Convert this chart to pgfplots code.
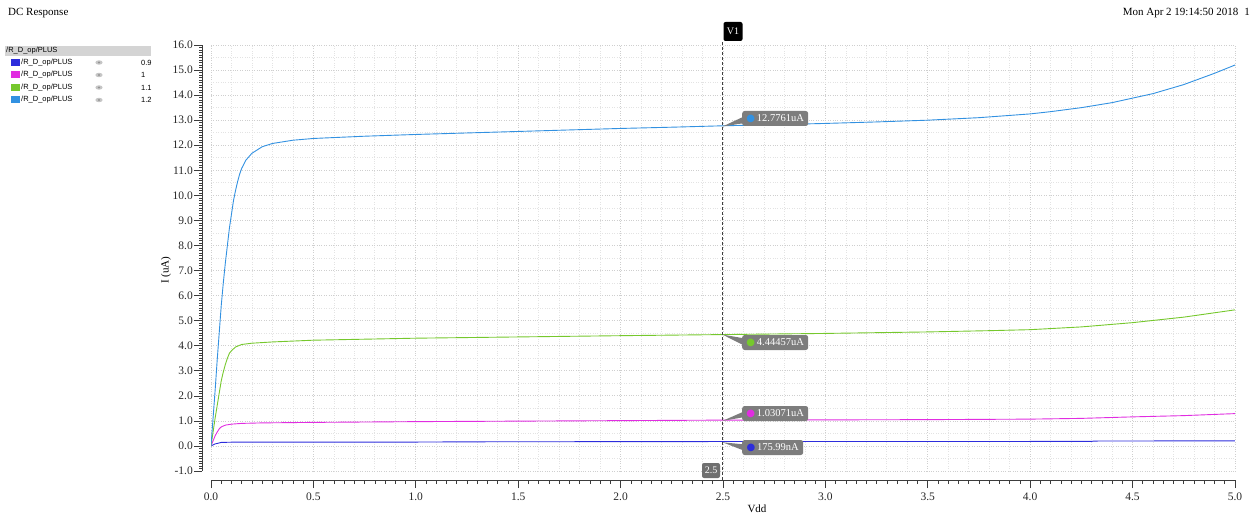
\documentclass[border=0pt]{standalone}
\usepackage{fontspec}
\setmainfont{Liberation Serif}
\newfontfamily\legfont{Liberation Sans}
\newfontfamily\djv{DejaVu Sans}
\usepackage{pgfplots}
\pgfplotsset{compat=1.18}
\definecolor{cA}{RGB}{45,45,220}
\definecolor{cB}{RGB}{225,45,225}
\definecolor{cC}{RGB}{118,200,45}
\definecolor{cD}{RGB}{50,145,225}
\definecolor{labgray}{RGB}{125,125,125}
\definecolor{curgray}{RGB}{112,112,112}
\definecolor{hdrgray}{RGB}{212,212,212}
\definecolor{axgray}{RGB}{60,60,60}

\pgfplotstableread{
x y
0 0
0.01 1.1
0.02 2.2
0.03 3.4
0.04 4.5
0.05 5.6
0.06 6.5
0.07 7.3
0.08 8.0
0.09 8.7
0.10 9.25
0.11 9.8
0.12 10.2
0.13 10.55
0.14 10.85
0.15 11.08
0.17 11.4
0.20 11.68
0.25 11.94
0.30 12.07
0.40 12.2
0.50 12.27
0.75 12.36
1.00 12.43
1.25 12.49
1.50 12.55
1.75 12.61
2.00 12.67
2.25 12.72
2.50 12.776
2.75 12.82
3.00 12.87
3.25 12.93
3.50 13.0
3.75 13.1
4.00 13.25
4.10 13.34
4.25 13.5
4.40 13.7
4.50 13.88
4.60 14.06
4.75 14.42
4.90 14.87
5.00 15.2
}\tblD

\pgfplotstableread{
x y
0 0
0.01 0.55
0.02 1.1
0.03 1.6
0.04 2.1
0.05 2.6
0.06 2.95
0.07 3.25
0.08 3.5
0.09 3.7
0.10 3.8
0.12 3.95
0.15 4.05
0.20 4.1
0.30 4.15
0.50 4.22
0.75 4.26
1.00 4.3
1.50 4.35
2.00 4.4
2.50 4.44457
3.00 4.49
3.50 4.55
3.80 4.6
4.00 4.64
4.25 4.75
4.50 4.92
4.75 5.14
5.00 5.43
}\tblC

\pgfplotstableread{
x y
0 0
0.01 0.2
0.02 0.4
0.03 0.55
0.04 0.68
0.05 0.76
0.07 0.83
0.10 0.87
0.15 0.9
0.25 0.92
0.50 0.94
1.00 0.97
1.50 0.99
2.00 1.01
2.50 1.03071
3.00 1.04
3.50 1.05
4.00 1.07
4.25 1.1
4.50 1.16
4.75 1.21
5.00 1.29
}\tblB

\pgfplotstableread{
x y
0 0
0.02 0.08
0.05 0.14
0.10 0.15
1.00 0.155
1.30 0.165
2.50 0.17599
4.30 0.18
4.31 0.195
5.00 0.205
}\tblA

\newcommand{\ldot}[1]{{\djv\fontsize{10}{10}\selectfont\textcolor{#1}{●}}}

\begin{document}
\begin{tikzpicture}
\path[use as bounding box] (0,0) rectangle (1256pt,515pt);

% title texts
\node[anchor=base west, inner sep=0, font=\fontsize{11}{13}\selectfont] at (8pt,499pt) {DC Response};
\node[anchor=base east, inner sep=0, font=\fontsize{11}{13}\selectfont] at (1250pt,499pt) {Mon Apr 2 19:14:50 2018\hspace{6pt}1};

% legend
\fill[hdrgray] (5pt,459pt) rectangle (151pt,469pt);
\node[anchor=west, inner sep=0, font=\legfont\fontsize{7.5}{8}\selectfont] at (6pt,464pt) {/R\_D\_op/PLUS};
\foreach \c/\v/\yy in {cA/0.9/452.5, cB/1/440, cC/1.1/427.5, cD/1.2/415}{
  \fill[\c] (11pt,\yy pt-3.5pt) rectangle (20pt,\yy pt+3.5pt);
  \node[anchor=west, inner sep=0, font=\legfont\fontsize{7.5}{8}\selectfont] at (21pt,\yy pt) {/R\_D\_op/PLUS};
  \fill[gray!45] (99pt,\yy pt) ellipse (3.6pt and 2.2pt);
  \fill[gray!85] (99pt,\yy pt) circle (1.2pt);
  \node[anchor=west, inner sep=0, font=\legfont\fontsize{7.5}{8}\selectfont] at (141pt,\yy pt) {\v};
}

% main axis: grid + data
\begin{axis}[
  at={(211pt,44pt)}, anchor=south west,
  scale only axis, width=1024pt, height=426pt,
  xmin=0, xmax=5, ymin=-1, ymax=16,
  xtick={0,0.5,...,5}, minor x tick num=4,
  ytick={-1,0,...,16}, minor y tick num=1,
  grid=both,
  major grid style={dotted, gray!38, line width=0.7pt},
  minor grid style={dotted, gray!22, line width=0.7pt},
  axis line style={draw=none},
  tick style={draw=none},
  xticklabels={}, yticklabels={},
  clip=true,
]
\addplot[cA, line width=0.9pt] table[x=x,y=y] {\tblA};
\addplot[cB, line width=0.9pt] table[x=x,y=y] {\tblB};
\addplot[cC, line width=0.9pt] table[x=x,y=y] {\tblC};
\addplot[cD, line width=0.9pt] table[x=x,y=y] {\tblD};
\end{axis}

% y spine
\begin{axis}[
  at={(202pt,44pt)}, anchor=south west,
  scale only axis, width=10pt, height=426pt,
  xmin=0, xmax=1, ymin=-1, ymax=16,
  axis y line*=left, axis x line=none,
  ytick={-1,0,...,16}, minor y tick num=9,
  tick align=outside,
  major tick length=8pt, minor tick length=3pt,
  axis line style={axgray, line width=0.8pt},
  tick style={axgray, line width=0.6pt},
  yticklabel={\pgfmathprintnumber[fixed,fixed zerofill,precision=1]{\tick}},
  /pgf/number format/assume math mode=true,
  yticklabel style={font=\fontsize{11.5}{13}\selectfont, text=black!85, inner sep=1pt},
]
\end{axis}

% x spine
\begin{axis}[
  at={(211pt,35pt)}, anchor=south west,
  scale only axis, width=1024pt, height=10pt,
  xmin=0, xmax=5, ymin=0, ymax=1,
  axis x line*=bottom, axis y line=none,
  xtick={0,0.5,...,5}, minor x tick num=9,
  tick align=outside,
  major tick length=8pt, minor tick length=4pt,
  axis line style={axgray, line width=0.8pt},
  tick style={axgray, line width=0.6pt},
  xticklabel={\pgfmathprintnumber[fixed,fixed zerofill,precision=1]{\tick}},
  /pgf/number format/assume math mode=true,
  xticklabel style={font=\fontsize{11.5}{13}\selectfont, text=black!85, inner sep=2pt, yshift=-3pt},
]
\end{axis}

% axis labels
\node[rotate=90, font=\fontsize{11}{13}\selectfont] at (166pt,245pt) {I (uA)};
\node[font=\fontsize{11}{13}\selectfont] at (757pt,6pt) {Vdd};

% cursor
\draw[densely dashed, gray!50!black, line width=0.8pt] (722.5pt,35pt) -- (722.5pt,474pt);
\node[fill=black, rounded corners=2pt, text=white, inner sep=0, minimum width=19pt, minimum height=19pt, font=\fontsize{10}{12}\selectfont] at (733pt,483.5pt) {V1};
\node[fill=curgray, rounded corners=2pt, text=white, inner sep=0, minimum width=18pt, minimum height=15pt, font=\fontsize{10}{12}\selectfont] at (711pt,44.5pt) {2.5};

% value labels (pointer + box)
\begin{scope}[x=1pt,y=1pt]
\fill[labgray] (722.5,388.5) -- (745,392) -- (745,399) -- cycle;
\node[fill=labgray, rounded corners=2.5pt, text=white, inner sep=0, minimum width=66pt, minimum height=15pt, anchor=west, font=\fontsize{10.5}{12}\selectfont] at (742,396.5) {\ldot{cD}\,12.7761uA};
\fill[labgray] (722.5,180.4) -- (745,176.5) -- (745,169) -- cycle;
\node[fill=labgray, rounded corners=2.5pt, text=white, inner sep=0, minimum width=66pt, minimum height=15pt, anchor=west, font=\fontsize{10.5}{12}\selectfont] at (742,172.5) {\ldot{cC}\,4.44457uA};
\fill[labgray] (722.5,94.1) -- (745,98) -- (745,104) -- cycle;
\node[fill=labgray, rounded corners=2.5pt, text=white, inner sep=0, minimum width=66pt, minimum height=15pt, anchor=west, font=\fontsize{10.5}{12}\selectfont] at (742,101.5) {\ldot{cB}\,1.03071uA};
\fill[labgray] (722.5,72.7) -- (745,70.5) -- (745,64) -- cycle;
\node[fill=labgray, rounded corners=2.5pt, text=white, inner sep=0, minimum width=61pt, minimum height=15pt, anchor=west, font=\fontsize{10.5}{12}\selectfont] at (742,67.5) {\ldot{cA}\,175.99nA};
\end{scope}
\end{tikzpicture}
\end{document}
